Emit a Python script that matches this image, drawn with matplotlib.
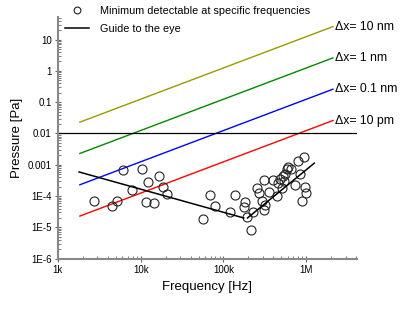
import matplotlib
matplotlib.use("Agg")
import matplotlib.pyplot as plt
from matplotlib.ticker import FixedLocator, NullFormatter, LogLocator

plt.rcParams['font.family'] = ['Liberation Sans', 'DejaVu Sans']

# Datos medidos: minimo detectable (Hz, Pa)
freq = [2.7e3, 4.5e3, 5.1e3, 6.1e3, 7.9e3, 10.5e3, 11.5e3, 12.4e3, 14.5e3, 16.6e3,
        18.6e3, 20.7e3, 56e3, 68e3, 79e3, 121e3, 137e3, 181e3, 179e3, 193e3,
        213e3, 226e3, 257e3, 266e3, 312e3, 293e3, 306e3, 318e3, 358e3, 400e3,
        439e3, 451e3, 482e3, 504e3, 518e3, 533e3, 558e3, 579e3, 602e3, 647e3,
        737e3, 801e3, 847e3, 895e3, 938e3, 965e3, 991e3]
pres = [7.1e-5, 5.0e-5, 7.2e-5, 6.6e-4, 1.6e-4, 7.6e-4, 6.7e-5, 2.9e-4, 6.0e-5, 4.5e-4,
        2.0e-4, 1.2e-4, 1.84e-5, 1.08e-4, 4.9e-5, 3.2e-5, 1.12e-4, 6.7e-5, 4.5e-5, 2.2e-5,
        8.0e-6, 3.2e-5, 1.75e-4, 1.3e-4, 3.3e-4, 7.1e-5, 3.65e-5, 5.3e-5, 1.4e-4, 3.3e-4,
        1.04e-4, 2.6e-4, 3.5e-4, 1.8e-4, 4.5e-4, 3.0e-4, 5.2e-4, 7.3e-4, 8.8e-4, 7.3e-4,
        2.2e-4, 1.31e-3, 5.0e-4, 7.1e-5, 1.76e-3, 2.0e-4, 1.3e-4]

# Guia para el ojo (dos tramos)
guia1_f = [1.8e3, 176e3]
guia1_p = [5.9e-4, 2.0e-5]
guia2_f = [195e3, 1.25e6]
guia2_p = [2.0e-5, 1.13e-3]

# Rectas de desplazamiento
recta_f = [1.84e3, 2.1e6]
rectas = {
    "10 nm": [0.023, 26.0],
    "1 nm": [0.0023, 2.6],
    "0.1 nm": [0.00023, 0.26],
    "10 pm": [0.000023, 0.026],
}
colores = ['#999900', '#008800', '#0000ff', '#ff0000']

umbral = 0.01

xticks = [1e3, 1e4, 1e5, 1e6]
xlabels = ['1k', '10k', '100k', '1M']
yticks = [1e-6, 1e-5, 1e-4, 1e-3, 1e-2, 1e-1, 1, 10]
ylabels = ['1E-6', '1E-5', '1E-4', '0.001', '0.01', '0.1', '1', '10']

fig = plt.figure(figsize=(4.08, 3.19), dpi=100)
ax = fig.add_axes([0.142, 0.189, 0.733, 0.758])
ax.set_xscale('log')
ax.set_yscale('log')
ax.set_xlim(1e3, 4.1e6)
ax.set_ylim(1e-6, 53)

for (nombre, valores), c in zip(rectas.items(), colores):
    ax.plot(recta_f, valores, color=c, lw=1)
    ax.text(recta_f[1] * 1.06, valores[1], "\u0394x= " + nombre, fontsize=8.8,
            va='center', ha='left')

ax.axhline(umbral, color='black', lw=0.9)

ax.plot(freq, pres, 'o', mfc='none', mec='#222222', ms=6.5, mew=0.8,
        label='Minimum detectable at specific frequencies')
ax.plot(guia1_f, guia1_p, color='black', lw=1.1, label='Guide to the eye')
ax.plot(guia2_f, guia2_p, color='black', lw=1.1)

# Ejes
for s in ['top', 'right']:
    ax.spines[s].set_visible(False)
for s in ['left', 'bottom']:
    ax.spines[s].set_color('#888888')
    ax.spines[s].set_linewidth(1.5)

ax.xaxis.set_major_locator(FixedLocator(xticks))
ax.set_xticklabels(xlabels)
ax.yaxis.set_major_locator(FixedLocator(yticks))
ax.set_yticklabels(ylabels)
ax.xaxis.set_minor_locator(LogLocator(base=10, subs=range(2, 10), numticks=20))
ax.yaxis.set_minor_locator(LogLocator(base=10, subs=range(2, 10), numticks=20))
ax.xaxis.set_minor_formatter(NullFormatter())
ax.yaxis.set_minor_formatter(NullFormatter())
ax.tick_params(which='major', direction='inout', length=5, width=0.8,
               color='#666666', labelsize=7, pad=2)
ax.tick_params(which='minor', direction='in', length=2, width=0.6, color='#666666')

ax.set_xlabel('Frequency [Hz]', fontsize=9.5, labelpad=4)
ax.set_ylabel('Pressure [Pa]', fontsize=9.5, labelpad=3)

ax.legend(loc='upper left', bbox_to_anchor=(0.145, 1.0), bbox_transform=fig.transFigure,
          frameon=False, fontsize=7.8, handlelength=2.2, handletextpad=1.0,
          labelspacing=0.75, markerscale=0.75, borderpad=0.05)

fig.savefig('out.png', dpi=100)
